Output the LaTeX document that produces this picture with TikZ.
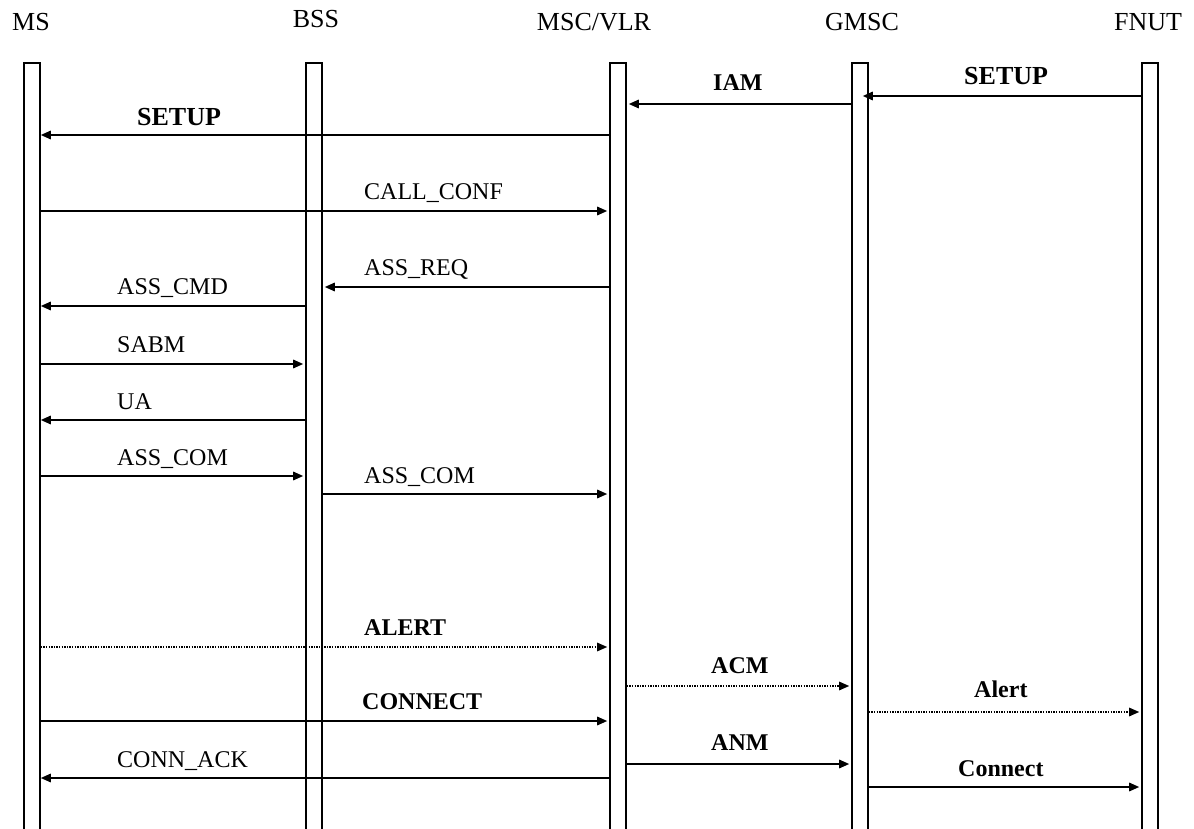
\documentclass[tikz,border=0pt]{standalone}
\usepackage{fontspec}
\setmainfont{Liberation Serif}
\usepackage{tikz}
\usetikzlibrary{positioning, calc, arrows.meta}
\tikzstyle{lifeline} =
[
	draw,rectangle,line width=1.6pt,inner sep=0pt,
	minimum width=16pt, minimum height=790pt
]
\tikzstyle{head} = [anchor=base, inner sep=0pt, font=\fontsize{26}{30}\selectfont]
\tikzstyle{lbl}  = [anchor=base west, inner sep=0pt, font=\fontsize{24}{28}\selectfont]
\tikzstyle{blbl} = [anchor=base west, inner sep=0pt, font=\fontsize{24}{28}\selectfont\bfseries]
\tikzstyle{msg}  = [line width=1.6pt, shorten >=2pt]
\tikzstyle{dmsg} = [line width=1.3pt, shorten >=2pt, dash pattern=on 1.3pt off 1.3pt]

\begin{document}
\begin{tikzpicture}[x=1pt,y=-1pt,>={Triangle[length=10pt,width=8.5pt]}]
\useasboundingbox (0,0) rectangle (1194,829);

% entities
\node[head] (hms)   at (31,31)  {MS};
\node[head] (hbss)  at (316,28) {BSS};
\node[head] (hmsc)  at (594,31) {MSC/VLR};
\node[head] (hgmsc) at (862,31) {GMSC};
\node[head] (hfnut) at (1148,31) {FNUT};

\node[lifeline] (ms)   at (32,458)   {};
\node[lifeline] (bss)  at (314,458)  {};
\node[lifeline] (msc)  at (618,458)  {};
\node[lifeline] (gmsc) at (860,458)  {};
\node[lifeline] (fnut) at (1150,458) {};

% call setup
\draw[msg,->] (fnut.west |- 0,96) -- ([xshift=-8pt]gmsc.east |- 0,96);
\node[lbl,font=\fontsize{26}{30}\selectfont\bfseries] (lsetup2) at (964,85) {SETUP};
\draw[msg,->] (gmsc.west |- 0,104) -- (msc.east |- 0,104);
\node[blbl] (liam) at (713,91) {IAM};
\draw[msg,->,shorten >=0pt] (msc.west |- 0,135) -- (ms.east |- 0,135);
\node[lbl,font=\fontsize{26}{30}\selectfont\bfseries] (lsetup1) at (137,126) {SETUP};

\draw[msg,->] (ms.east |- 0,211) -- (msc.west |- 0,211);
\node[lbl] (lcallconf) at (364,200) {CALL\_CONF};
\draw[msg,->] (msc.west |- 0,287) -- (bss.east |- 0,287);
\node[lbl] (lassreq) at (364,276) {ASS\_REQ};
\draw[msg,->,shorten >=0pt] (bss.west |- 0,306) -- (ms.east |- 0,306);
\node[lbl] (lasscmd) at (117,294) {ASS\_CMD};
\draw[msg,->] (ms.east |- 0,364) -- (bss.west |- 0,364);
\node[lbl] (lsabm) at (117,352) {SABM};
\draw[msg,->,shorten >=0pt] (bss.west |- 0,420) -- (ms.east |- 0,420);
\node[lbl] (lua) at (117,409) {UA};
\draw[msg,->] (ms.east |- 0,476) -- (bss.west |- 0,476);
\node[lbl] (lasscom1) at (117,465) {ASS\_COM};
\draw[msg,->] (bss.east |- 0,494) -- (msc.west |- 0,494);
\node[lbl] (lasscom2) at (364,483) {ASS\_COM};

% alerting and answer
\draw[dmsg,->] (ms.east |- 0,647) -- (msc.west |- 0,647);
\node[blbl] (lalert1) at (364,635) {ALERT};
\draw[dmsg,->] (msc.east |- 0,686) -- (gmsc.west |- 0,686);
\node[blbl] (lacm) at (711,673) {ACM};
\draw[dmsg,->] (gmsc.east |- 0,712) -- (fnut.west |- 0,712);
\node[blbl] (lalert2) at (974,697) {Alert};
\draw[msg,->] (ms.east |- 0,721) -- (msc.west |- 0,721);
\node[blbl] (lconnect1) at (362,709) {CONNECT};
\draw[msg,->] (msc.east |- 0,764) -- (gmsc.west |- 0,764);
\node[blbl] (lanm) at (711,750) {ANM};
\draw[msg,->,shorten >=0pt] (msc.west |- 0,778) -- (ms.east |- 0,778);
\node[lbl] (lconnack) at (117,767) {CONN\_ACK};
\draw[msg,->] (gmsc.east |- 0,787) -- (fnut.west |- 0,787);
\node[blbl] (lconnect2) at (958,776) {Connect};

\end{tikzpicture}
\end{document}
